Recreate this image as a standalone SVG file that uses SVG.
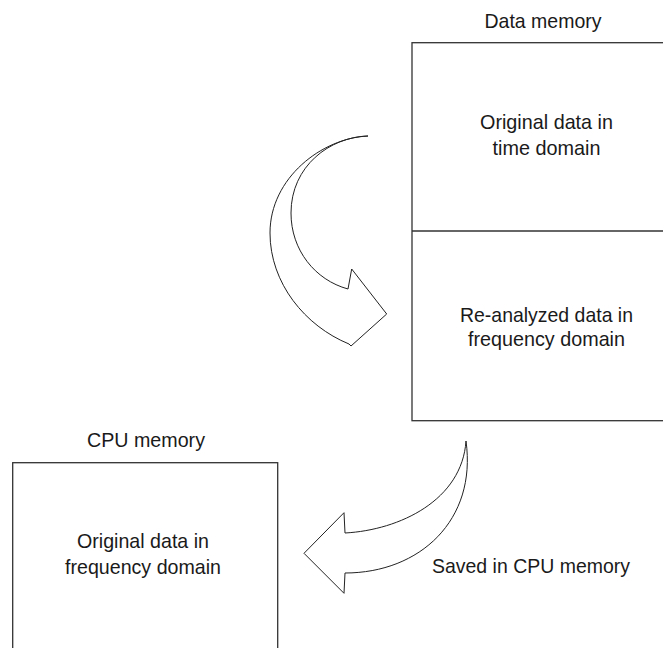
<svg xmlns="http://www.w3.org/2000/svg" width="663" height="648" viewBox="0 0 663 648">
<style>
.box{fill:none;stroke:#333;stroke-width:1.3}
.arrow{fill:#fff;stroke:#222;stroke-width:1;stroke-linejoin:miter}
text{font-family:"Liberation Sans",Arial,sans-serif;font-size:21px;fill:#1a1a1a;text-anchor:middle}
</style>
<rect width="663" height="648" fill="#fff"/>
<g id="data-memory">
<text x="543" y="28" textLength="117" lengthAdjust="spacingAndGlyphs">Data memory</text>
<rect class="box" x="412" y="42.7" width="270" height="378"/>
</g>
<g id="time-domain">
<text x="546.5" y="129" textLength="133" lengthAdjust="spacingAndGlyphs">Original data in</text>
<text x="546.5" y="155" textLength="108" lengthAdjust="spacingAndGlyphs">time domain</text>
</g>
<g id="divider">
<line class="box" x1="412" y1="231" x2="663" y2="231"/>
</g>
<g id="freq-domain">
<text x="546.5" y="322" textLength="173" lengthAdjust="spacingAndGlyphs">Re-analyzed data in</text>
<text x="546.5" y="346" textLength="157" lengthAdjust="spacingAndGlyphs">frequency domain</text>
</g>
<g id="cpu-memory">
<text x="146" y="446.5" textLength="118" lengthAdjust="spacingAndGlyphs">CPU memory</text>
<rect class="box" x="12.7" y="462.7" width="265" height="200"/>
<text x="143" y="548" textLength="132" lengthAdjust="spacingAndGlyphs">Original data in</text>
<text x="143" y="574" textLength="156" lengthAdjust="spacingAndGlyphs">frequency domain</text>
</g>
<g id="connectors">
<path class="arrow" d="M368,136 C322,138 270,178 270,233 C270,283 305,326 349,344 L351,346 L386.7,314 L351.7,269 L348,289 C315,280 291,250 291,213 C291,166 330,137 368,136 Z"/>
<path class="arrow" d="M466,441 C462,500 400,530 345,533 L344,512.7 L304,553.3 L344,593.3 L345,573 C420,573 477,520 466,441 Z"/>
<text x="531" y="573" textLength="198" lengthAdjust="spacingAndGlyphs">Saved in CPU memory</text>
</g>
</svg>
